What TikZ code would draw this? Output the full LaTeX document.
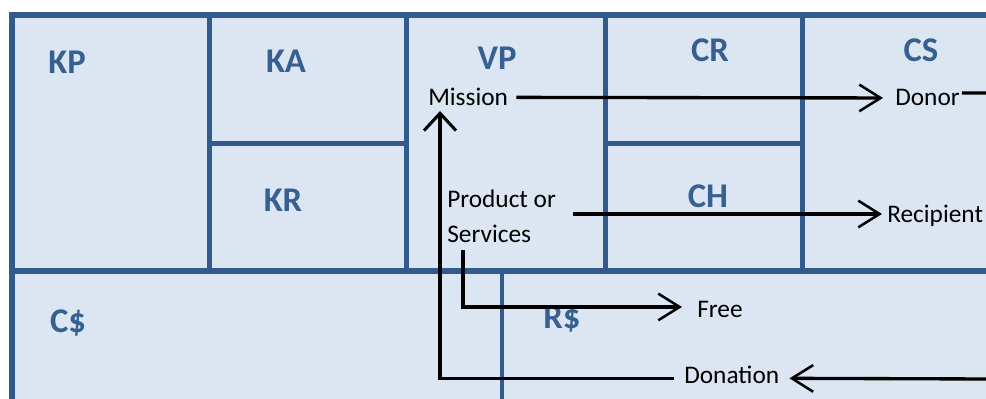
\documentclass[tikz,border=0pt]{standalone}
\usepackage{fontspec}
\setmainfont{Carlito}
\usetikzlibrary{arrows.meta,calc}
\definecolor{gridblue}{RGB}{50,90,140}
\definecolor{cellfill}{RGB}{220,230,242}
\definecolor{labblue}{RGB}{55,96,146}
\begin{document}
\begin{tikzpicture}[x=0.75pt,y=-0.75pt,
  gridline/.style={draw=gridblue,line width=3.75pt},
  thickline/.style={draw=gridblue,line width=4.5pt},
  thinline/.style={draw=gridblue,line width=2.6pt},
  lab/.style={text=labblue,font=\bfseries\fontsize{26}{30}\selectfont,inner sep=0pt,anchor=base},
  txt/.style={text=black,font=\fontsize{19}{22}\selectfont,inner sep=0pt,anchor=base west},
  conn/.style={draw=black,line width=2.5pt},
  arr/.style={conn,-{Straight Barb[length=16pt,width=20pt,line width=1.9pt]}},
  arrup/.style={conn,-{Straight Barb[length=13pt,width=24pt,line width=2.3pt]}},
]
\useasboundingbox (0,0) rectangle (986,399);
\fill[white] (0,0) rectangle (986,399);
\begin{scope}
  \clip (0,0) rectangle (986,399);
  \fill[cellfill] (12,15) rectangle (1010,420);
  % outer border
  \draw[thickline] (12,420) -- (12,15) -- (1010,15);
  % middle horizontal
  \draw[thickline] (12,271) -- (1010,271);
  % vertical dividers top row
  \draw[gridline] (209,15) -- (209,271);
  \draw[gridline] (406,15) -- (406,271);
  \draw[gridline] (605,15) -- (605,271);
  \draw[gridline] (802,15) -- (802,271);
  % horizontal sub dividers
  \draw[gridline] (209,144) -- (406,144);
  \draw[gridline] (605,144) -- (802,144);
  % C$ / R$ divider
  \draw[thinline] (502,273) -- (502,420);
\end{scope}

% block labels
\node[lab] (kp) at (67,74) {KP};
\node[lab] (ka) at (286,73) {KA};
\node[lab] (kr) at (283,212) {KR};
\node[lab] (vp) at (497,70) {VP};
\node[lab] (cr) at (710,62) {CR};
\node[lab] (cs) at (921,62) {CS};
\node[lab] (ch) at (708,208) {CH};
\node[lab] (cd) at (68,332) {C\$};
\node[lab] (rd) at (562,329) {R\$};

% black texts
\node[txt] (mission) at (428,106) {Mission};
\node[txt] (donor) at (895,106) {Donor};
\node[txt] (prod) at (447,208) {Product or};
\node[txt] (serv) at (447,243) {Services};
\node[txt] (recip) at (887,223) {Recipient};
\node[txt] (free) at (697,317) {Free};
\node[txt] (donat) at (684,383) {Donation};

% connectors
\coordinate (dR) at (990,93);
\coordinate (dnR) at (990,379);
\coordinate (p1) at ($(prod.base east)+(17,6)$);
\coordinate (s1) at ($(serv.base west)+(16,7)$);

\draw[arr] ($(mission.east)+(8,0)$) -- ($(donor.west)+(-12,0)$);
\draw[conn] ($(donor.east)+(2,-5)$) -- (dR);
\draw[arr] (p1) -- ($(recip.west |- p1)+(-5,0)$);
\draw[arr] (s1) |- ($(free.west)+(-15,-2)$);
\draw[arr] (dnR) -- ($(donat.east)+(10,4)$);
\draw[arrup] ($(donat.west)+(-10,4)$) -| ($(mission.base west)+(12,5)$);
\end{tikzpicture}
\end{document}
